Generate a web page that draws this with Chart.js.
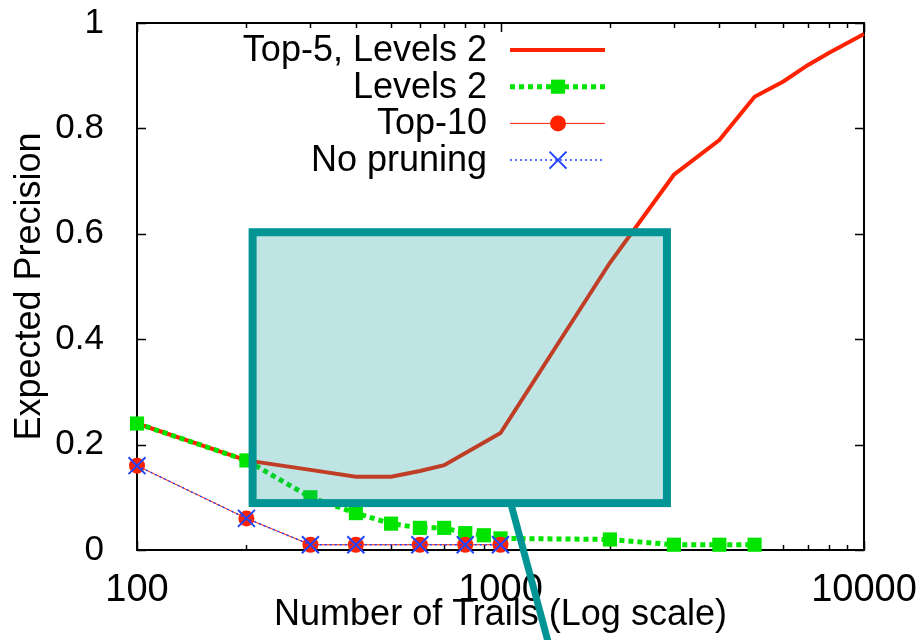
<!DOCTYPE html>
<html>
<head>
<meta charset="utf-8">
<script src="https://cdn.jsdelivr.net/npm/chart.js@4/dist/chart.umd.min.js"></script>
<style>
  html, body { margin: 0; padding: 0; background: #ffffff; }
  #wrap { width: 923px; height: 640px; }
</style>
</head>
<body>
<div id="wrap"><canvas id="c" width="923" height="640"></canvas></div>
<script>
// Expected precision against the number of trails, per pruning strategy
const top5Trails = [100, 200, 300, 400, 500, 600, 700, 1000, 2000, 3000, 4000, 5000, 6000, 7000, 8000, 10000];
const top5Precision = [0.24, 0.17, 0.152, 0.139, 0.139, 0.15, 0.161, 0.222, 0.545, 0.712, 0.778, 0.86, 0.889, 0.92, 0.943, 0.979];

const levels2Trails = [100, 200, 300, 400, 500, 600, 700, 800, 900, 1000, 2000, 3000, 4000, 5000];
const levels2Precision = [0.24, 0.17, 0.1, 0.07, 0.05, 0.042, 0.042, 0.032, 0.028, 0.022, 0.02, 0.01, 0.01, 0.01];

const top10Trails = [100, 200, 300, 400, 600, 800, 1000];
const top10Precision = [0.16, 0.06, 0.01, 0.01, 0.01, 0.01, 0.01];

const noPruningTrails = [100, 200, 300, 400, 600, 800, 1000];
const noPruningPrecision = [0.16, 0.06, 0.01, 0.01, 0.01, 0.01, 0.01];

const xTickLabels = [100, 1000, 10000];
const yTickLabels = [0, 0.2, 0.4, 0.6, 0.8, 1];

// Highlighted region and its callout line, in data units
const zoomBoxTrails = [208, 2870];
const zoomBoxPrecision = [0.089, 0.603];
const calloutTrails = [1067, 1365];
const calloutPrecision = [0.089, -0.185];

const FONT = '"Liberation Sans", Arial, Helvetica, sans-serif';
Chart.defaults.font.family = FONT;
Chart.defaults.color = '#000000';

const toPoints = (xs, ys) => xs.map((x, i) => ({ x: x, y: ys[i] }));

const RED = '#ff2200';
const GREEN = '#00e400';
const BLUE = '#2244ff';
const TEAL = 'rgb(0,148,148)';

const datasets = [
  {
    label: 'Top-5, Levels 2',
    data: toPoints(top5Trails, top5Precision),
    borderColor: RED, backgroundColor: RED,
    borderWidth: 4, pointRadius: 0, pointHoverRadius: 0,
    order: 4
  },
  {
    label: 'Levels 2',
    data: toPoints(levels2Trails, levels2Precision),
    borderColor: GREEN, backgroundColor: GREEN,
    borderWidth: 5, borderDash: [5, 4],
    pointStyle: 'rect', pointRadius: 10, pointBorderWidth: 0,
    pointBackgroundColor: GREEN, pointBorderColor: GREEN,
    order: 3
  },
  {
    label: 'Top-10',
    data: toPoints(top10Trails, top10Precision),
    borderColor: RED, backgroundColor: RED,
    borderWidth: 1,
    pointStyle: 'circle', pointRadius: 8, pointBorderWidth: 0,
    pointBackgroundColor: RED, pointBorderColor: RED,
    order: 2
  },
  {
    label: 'No pruning',
    data: toPoints(noPruningTrails, noPruningPrecision),
    borderColor: BLUE, backgroundColor: BLUE,
    borderWidth: 1.5, borderDash: [2, 3],
    pointStyle: 'crossRot', pointRadius: 12, pointBorderWidth: 2,
    pointBorderColor: BLUE, pointBackgroundColor: BLUE,
    order: 1
  }
];
datasets.forEach(d => { d.fill = false; d.tension = 0; d.clip = false; });

// Border box with inward ticks on all four sides
const framePlugin = {
  id: 'frame',
  beforeDatasetsDraw(chart) {
    const { ctx, chartArea: a, scales: { x, y } } = chart;
    ctx.save();
    ctx.strokeStyle = '#000';
    ctx.lineWidth = 2;
    ctx.setLineDash([]);
    ctx.strokeRect(a.left, a.top, a.right - a.left, a.bottom - a.top);
    ctx.lineWidth = 1.5;
    ctx.beginPath();
    yTickLabels.forEach(v => {
      const py = Math.round(y.getPixelForValue(v)) + 0.5;
      ctx.moveTo(a.left, py); ctx.lineTo(a.left + 9, py);
      ctx.moveTo(a.right, py); ctx.lineTo(a.right - 9, py);
    });
    for (let dec = 100; dec < 10000; dec *= 10) {
      for (let m = 1; m <= 10; m++) {
        const v = dec * m;
        const px = Math.round(x.getPixelForValue(v)) + 0.5;
        const len = (m === 1 || m === 10) ? 9 : 5;
        ctx.moveTo(px, a.bottom); ctx.lineTo(px, a.bottom - len);
        ctx.moveTo(px, a.top); ctx.lineTo(px, a.top + len);
      }
    }
    ctx.stroke();
    ctx.restore();
  }
};

// Key box, highlighted region and callout
const overlayPlugin = {
  id: 'overlay',
  afterDraw(chart) {
    const { ctx, scales: { x, y } } = chart;
    ctx.save();

    // key
    const textRight = 487, lineL = 510, lineR = 605, markX = 558;
    chart.data.datasets.forEach((ds, i) => {
      const ky = 50 + i * 36.7;
      ctx.font = '36px ' + FONT;
      ctx.fillStyle = '#000';
      ctx.textAlign = 'right';
      ctx.textBaseline = 'middle';
      ctx.fillText(ds.label, textRight, ky + 1);

      ctx.strokeStyle = ds.borderColor;
      ctx.lineWidth = ds.borderWidth;
      ctx.setLineDash(ds.borderDash || []);
      ctx.beginPath();
      ctx.moveTo(lineL, ky); ctx.lineTo(lineR, ky);
      ctx.stroke();
      ctx.setLineDash([]);

      if (ds.pointRadius > 0) {
        ctx.fillStyle = ds.pointBackgroundColor;
        ctx.strokeStyle = ds.pointBorderColor;
        ctx.lineWidth = ds.pointBorderWidth;
        Chart.helpers.drawPoint(ctx, {
          pointStyle: ds.pointStyle,
          radius: ds.pointRadius,
          borderWidth: ds.pointBorderWidth,
          rotation: 0
        }, markX, ky);
      }
    });

    // highlighted region
    const bx0 = x.getPixelForValue(zoomBoxTrails[0]);
    const bx1 = x.getPixelForValue(zoomBoxTrails[1]);
    const by0 = y.getPixelForValue(zoomBoxPrecision[1]);
    const by1 = y.getPixelForValue(zoomBoxPrecision[0]);
    ctx.fillStyle = 'rgba(0,148,148,0.25)';
    ctx.fillRect(bx0, by0, bx1 - bx0, by1 - by0);
    ctx.strokeStyle = TEAL;
    ctx.lineWidth = 8;
    ctx.lineJoin = 'miter';
    ctx.strokeRect(bx0, by0, bx1 - bx0, by1 - by0);

    // callout line
    ctx.lineWidth = 7;
    ctx.lineCap = 'butt';
    ctx.beginPath();
    ctx.moveTo(x.getPixelForValue(calloutTrails[0]), y.getPixelForValue(calloutPrecision[0]));
    ctx.lineTo(x.getPixelForValue(calloutTrails[1]), y.getPixelForValue(calloutPrecision[1]));
    ctx.stroke();

    ctx.restore();
  }
};

new Chart(document.getElementById('c'), {
  type: 'line',
  data: { datasets: datasets },
  options: {
    responsive: false,
    animation: false,
    devicePixelRatio: 1,
    layout: { padding: { left: 0, right: 59, top: 23, bottom: 0 } },
    plugins: { legend: { display: false }, tooltip: { enabled: false } },
    scales: {
      x: {
        type: 'logarithmic',
        min: 100, max: 10000,
        afterBuildTicks: s => { s.ticks = xTickLabels.map(v => ({ value: v })); },
        afterFit: s => { s.height = 90; s.paddingLeft = 0; s.paddingRight = 0; },
        grid: { display: false },
        border: { display: false },
        ticks: {
          font: { size: 38, lineHeight: 1 },
          color: '#000',
          padding: 14,
          maxRotation: 0,
          autoSkip: false,
          callback: v => String(v)
        },
        title: {
          display: true,
          text: 'Number of Trails (Log scale)',
          font: { size: 36, lineHeight: 1 },
          color: '#000',
          padding: { top: 0, bottom: 7 }
        }
      },
      y: {
        type: 'linear',
        min: 0, max: 1,
        afterBuildTicks: s => { s.ticks = yTickLabels.map(v => ({ value: v })); },
        afterFit: s => { s.width = 137; s.paddingTop = 0; s.paddingBottom = 0; },
        grid: { display: false },
        border: { display: false },
        ticks: {
          font: { size: 35, lineHeight: 1 },
          color: '#000',
          padding: 25,
          callback: v => String(v)
        },
        title: {
          display: true,
          text: 'Expected Precision',
          font: { size: 36, lineHeight: 1 },
          color: '#000',
          padding: { top: 12, bottom: 0 }
        }
      }
    }
  },
  plugins: [framePlugin, overlayPlugin]
});
</script>
</body>
</html>
